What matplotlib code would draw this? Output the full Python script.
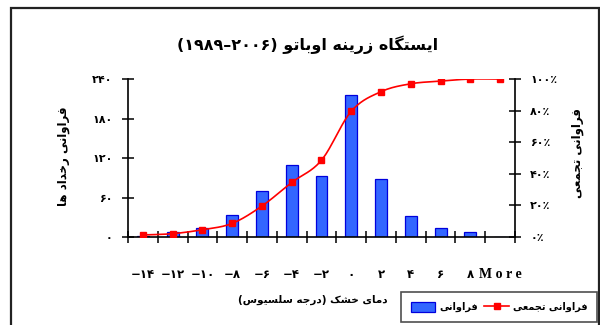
import numpy as np
import matplotlib
matplotlib.use("Agg")
import matplotlib.pyplot as plt
from matplotlib.lines import Line2D
from matplotlib.patches import Patch, Rectangle

# ---- data ----
categories = ["-14", "-12", "-10", "-8", "-6", "-4", "-2", "0", "2", "4", "6", "8", "More"]
frequency = [2, 8, 14, 33, 70, 109, 93, 216, 88, 32, 14, 8, 0]
cumulative_pct = [1.3, 2.1, 4.6, 8.6, 19.6, 34.5, 48.6, 79.6, 92.0, 97.0, 98.7, 100.0, 100.0]
left_ticks = [0, 60, 120, 180, 240]
right_ticks = [0, 20, 40, 60, 80, 100]

title_text = "ایستگاه زرینه اوباتو (۲۰۰۶–۱۹۸۹)"
xlabel_text = "دمای خشک (درجه سلسیوس)"
ylabel_left = "فراوانی رخداد ها"
ylabel_right = "فراوانی تجمعی"
legend_bar = "فراوانی"
legend_line = "فراوانی تجمعی"

# ---- minimal Persian shaping (presentation forms + visual order) ----
FORMS = {
    "ا": ("\uFE8D", "\uFE8E", None, None),
    "ب": ("\uFE8F", "\uFE90", "\uFE91", "\uFE92"),
    "ت": ("\uFE95", "\uFE96", "\uFE97", "\uFE98"),
    "ج": ("\uFE9D", "\uFE9E", "\uFE9F", "\uFEA0"),
    "خ": ("\uFEA5", "\uFEA6", "\uFEA7", "\uFEA8"),
    "د": ("\uFEA9", "\uFEAA", None, None),
    "ر": ("\uFEAD", "\uFEAE", None, None),
    "ز": ("\uFEAF", "\uFEB0", None, None),
    "س": ("\uFEB1", "\uFEB2", "\uFEB3", "\uFEB4"),
    "ش": ("\uFEB5", "\uFEB6", "\uFEB7", "\uFEB8"),
    "ع": ("\uFEC9", "\uFECA", "\uFECB", "\uFECC"),
    "ف": ("\uFED1", "\uFED2", "\uFED3", "\uFED4"),
    "ل": ("\uFEDD", "\uFEDE", "\uFEDF", "\uFEE0"),
    "م": ("\uFEE1", "\uFEE2", "\uFEE3", "\uFEE4"),
    "ن": ("\uFEE5", "\uFEE6", "\uFEE7", "\uFEE8"),
    "ه": ("\uFEE9", "\uFEEA", "\uFEEB", "\uFEEC"),
    "و": ("\uFEED", "\uFEEE", None, None),
    "ی": ("\uFBFC", "\uFBFD", "\uFBFE", "\uFBFF"),
    "ک": ("\uFB8E", "\uFB8F", "\uFB90", "\uFB91"),
    "گ": ("\uFB92", "\uFB93", "\uFB94", "\uFB95"),
}
MIRROR = {"(": ")", ")": "("}
DIGITS = set("۰۱۲۳۴۵۶۷۸۹0123456789")


def fa(text):
    out = []
    n = len(text)
    for i, ch in enumerate(text):
        if ch not in FORMS:
            out.append(ch)
            continue
        prev = text[i - 1] if i > 0 else ""
        nxt = text[i + 1] if i + 1 < n else ""
        jp = prev in FORMS and FORMS[prev][2] is not None
        jn = FORMS[ch][2] is not None and nxt in FORMS
        iso, fin, ini, med = FORMS[ch]
        if jp and jn:
            out.append(med)
        elif jp:
            out.append(fin)
        elif jn:
            out.append(ini)
        else:
            out.append(iso)
    vis = [MIRROR.get(c, c) for c in reversed(out)]
    # keep each number left-to-right
    res, run = [], []
    for c in vis:
        if c in DIGITS:
            run.append(c)
        else:
            if run:
                res.extend(reversed(run))
                run = []
            res.append(c)
    if run:
        res.extend(reversed(run))
    return "".join(res)


FA_DIG = str.maketrans("0123456789", "۰۱۲۳۴۵۶۷۸۹")


def fa_num(s):
    return s.replace("-", "−").translate(FA_DIG)


AR = ["DejaVu Sans"]

fig = plt.figure(figsize=(6, 3.25), dpi=100)
fig.patch.set_facecolor("white")

# outer chart frame (open at the bottom edge)
fig.patches.append(Rectangle((11 / 600, -0.1), 588 / 600, 1.1 - 8 / 325,
                             transform=fig.transFigure, fill=False,
                             edgecolor="#222222", lw=1.6, zorder=0))

ax = fig.add_axes([0.2133, 0.2708, 0.645, 0.486])
ax2 = ax.twinx()

x = np.arange(len(categories))
ax.bar(x, frequency, width=0.4, color="#3366ff", edgecolor="#0000dd", lw=0.9, zorder=2)
ax.set_xlim(-0.5, len(categories) - 0.5)
ax.set_ylim(0, 240)
ax.set_yticks(left_ticks)
ax.set_yticklabels([fa_num(str(v)) for v in left_ticks], family=AR,
                   fontweight="bold", fontsize=8)

ax.set_xticks(np.arange(-0.5, len(categories), 1.0))
ax.set_xticklabels([])
ax.set_xticks(x, minor=True)
xt = ax.set_xticklabels([fa_num(c) if c != "More" else "M o r e" for c in categories],
                        minor=True, fontweight="bold", fontsize=8.5, family=AR)
xt[-1].set_family(["Liberation Serif"])
xt[-1].set_fontsize(10)
ax.tick_params(axis="x", which="major", direction="inout", length=9, width=1.1)
ax.tick_params(axis="x", which="minor", length=0, pad=22)
ax.tick_params(axis="y", direction="inout", length=8, width=1.1, pad=7)

for s in ("top", "right"):
    ax.spines[s].set_visible(False)
ax.spines["left"].set_linewidth(1.2)
ax.spines["bottom"].set_linewidth(1.2)

# smoothed cumulative curve (Catmull-Rom through the points)
px = np.asarray(x, float)
py = np.asarray(cumulative_pct, float)
P = np.column_stack([px, py])
Pext = np.vstack([P[0], P, P[-1]])
curve = []
for i in range(len(P) - 1):
    p0, p1, p2, p3 = Pext[i], Pext[i + 1], Pext[i + 2], Pext[i + 3]
    t = np.linspace(0, 1, 20)[:, None]
    seg = 0.5 * ((2 * p1) + (-p0 + p2) * t + (2 * p0 - 5 * p1 + 4 * p2 - p3) * t ** 2
                 + (-p0 + 3 * p1 - 3 * p2 + p3) * t ** 3)
    curve.append(seg)
curve = np.vstack(curve)
ax2.plot(curve[:, 0], curve[:, 1], color="#ff0000", lw=1.2, zorder=3)
ax2.plot(px, py, ls="none", marker="s", ms=5, color="#ff0000", zorder=4)

ax2.set_ylim(0, 100)
ax2.set_yticks(right_ticks)
ax2.set_yticklabels([fa_num(str(v)) + "٪" for v in right_ticks], family=AR,
                    fontweight="bold", fontsize=8)
ax2.tick_params(axis="y", direction="inout", length=8, width=1.1, pad=7)
for s in ("top", "left", "bottom"):
    ax2.spines[s].set_visible(False)
ax2.spines["right"].set_linewidth(1.2)

# titles
fig.text(0.512, 0.862, fa(title_text), ha="center", va="center",
         family=AR, fontweight="bold", fontsize=11.5)
fig.text(0.522, 0.077, fa(xlabel_text), ha="center", va="center",
         family=AR, fontweight="bold", fontsize=7.5)
fig.text(0.105, 0.52, fa(ylabel_left), ha="center", va="center", rotation=90,
         family=AR, fontweight="bold", fontsize=8.5)
fig.text(0.963, 0.53, fa(ylabel_right), ha="center", va="center", rotation=90,
         family=AR, fontweight="bold", fontsize=8.5)

# legend
handles = [Patch(facecolor="#3366ff", edgecolor="#0000dd", lw=0.9),
           Line2D([], [], color="#ff0000", lw=1.2, marker="s", ms=5)]
leg = fig.legend(handles, [fa(legend_bar), fa(legend_line)], ncol=2,
                 loc="upper right", bbox_to_anchor=(597 / 600, 1 - 292 / 325),
                 frameon=True, fancybox=False, edgecolor="#222222",
                 prop={"family": AR, "weight": "bold", "size": 7},
                 handlelength=2.5, handleheight=1.2, columnspacing=0.7,
                 handletextpad=0.4, borderpad=1.0, borderaxespad=0)
leg.get_frame().set_linewidth(1.2)

fig.savefig("out.png", dpi=100)
